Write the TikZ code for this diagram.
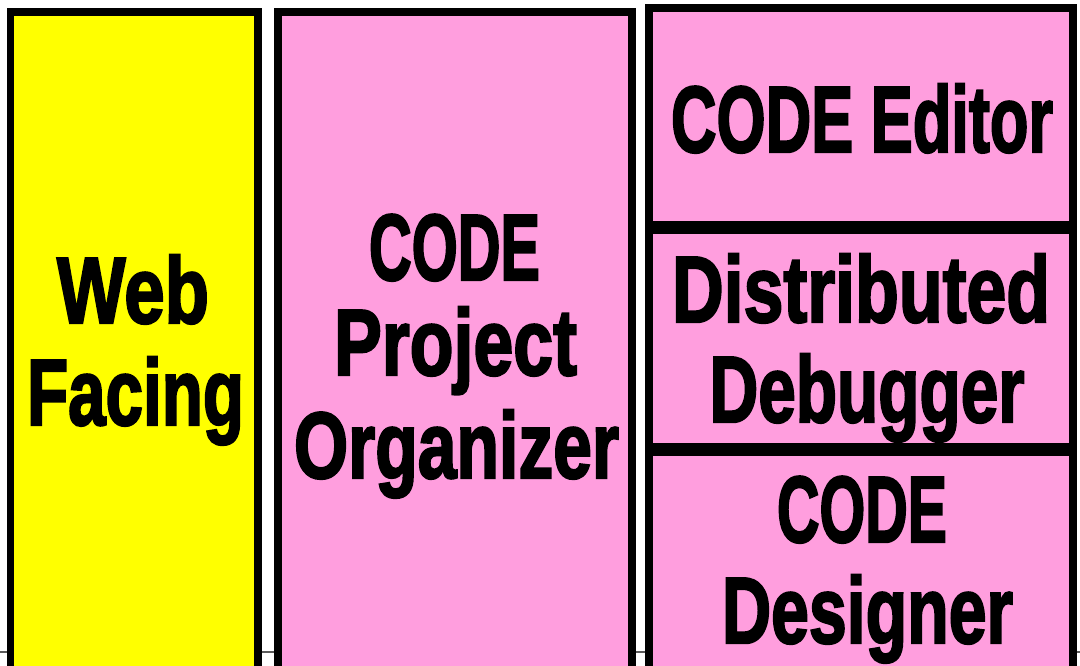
\documentclass[tikz,border=0pt]{standalone}
\usepackage{fontspec}
\usepackage{graphicx}
\setmainfont{Liberation Sans}
\newfontfamily\heavyface[FakeBold=2.6]{Liberation Sans Bold}
\newcommand\fitline[2]{\resizebox{#1}{\height}{#2}}
\definecolor{boxyellow}{RGB}{255,255,0}
\definecolor{boxpink}{RGB}{255,158,222}
\definecolor{rulegray}{RGB}{90,90,90}
\tikzset{
  box/.style={draw=black, line width=3.75pt, anchor=north west, outer sep=0pt, inner sep=0pt, rectangle},
  ybox/.style={box, fill=boxyellow},
  pbox/.style={box, fill=boxpink},
  lbl/.style={inner sep=0pt, outer sep=0pt, anchor=base, text=black, font=\heavyface\fontsize{47}{50}\selectfont},
  baseline rule/.style={draw=rulegray, line width=0.6pt}
}
\begin{document}
\begin{tikzpicture}[x=0.5pt, y=-0.5pt]
\useasboundingbox (0,0) rectangle (1080,665);
\clip (0,0) rectangle (1080,665);
\fill[white] (0,0) rectangle (1080,665);
\coordinate (r0) at (0,652);
\coordinate (r1) at (1080,652);
\draw[baseline rule] (r0) -- (r1);
% boxes
\node[ybox, minimum width=123.75pt, minimum height=354pt] (web) at (10.5,12) {};
\node[pbox, minimum width=177pt, minimum height=354pt] (org) at (278,12) {};
\node[pbox, minimum width=212pt, minimum height=108.25pt] (edit) at (649,8) {};
\node[pbox, minimum width=212pt, minimum height=108pt] (dbg) at (649,230.5) {};
\node[pbox, minimum width=212pt, minimum height=133.75pt] (des) at (649,452.5) {};
% labels
\node[lbl] (webA) at (133,323) {\fitline{76pt}{Web}};
\node[lbl] (webB) at (135.5,425) {\fitline{108.5pt}{Facing}};
\node[lbl] (orgA) at (454.5,280) {\fitline{85.5pt}{CODE}};
\node[lbl] (orgB) at (455.5,375) {\fitline{121.5pt}{Project}};
\node[lbl] (orgC) at (456.5,478) {\fitline{162.5pt}{Organizer}};
\node[lbl] (editA) at (862,152) {\fitline{191pt}{CODE Editor}};
\node[lbl] (dbgA) at (861,322) {\fitline{189pt}{Distributed}};
\node[lbl] (dbgB) at (867,422) {\fitline{157.5pt}{Debugger}};
\node[lbl] (desA) at (862,542) {\fitline{85pt}{CODE}};
\node[lbl] (desB) at (867.5,643) {\fitline{145.5pt}{Designer}};
\end{tikzpicture}
\end{document}
